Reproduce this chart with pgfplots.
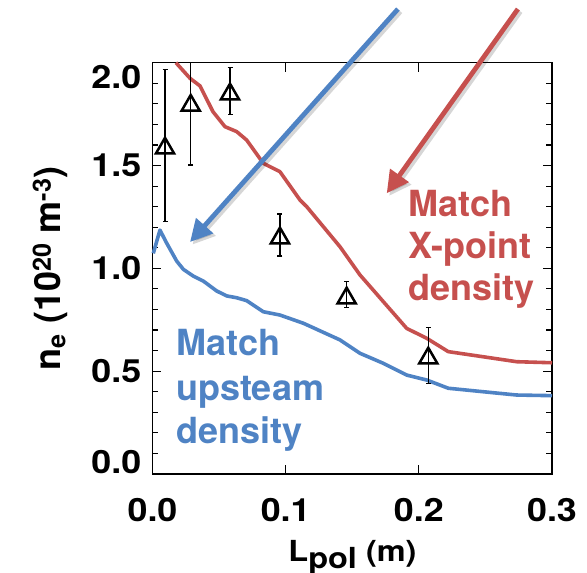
\documentclass[border=0pt]{standalone}
\usepackage{pgfplots}
\pgfplotsset{compat=1.18}
\usepackage{pgfplotstable}
\usepackage{fontspec}
\setmainfont{TeX Gyre Heros}
\newfontfamily\axisfont{TeX Gyre Heros}[FakeStretch=1.12]
\usetikzlibrary{arrows.meta}
\definecolor{myred}{RGB}{198,80,78}
\definecolor{myblue}{RGB}{79,131,196}

\pgfplotstableread{
x y
0.0176 2.000
0.0282 1.924
0.0357 1.887
0.0454 1.762
0.0544 1.689
0.0632 1.665
0.0707 1.624
0.0832 1.511
0.0957 1.470
0.1108 1.332
0.1158 1.300
0.1408 1.105
0.1558 0.968
0.1909 0.708
0.2059 0.660
0.2221 0.595
0.2484 0.570
0.2735 0.546
0.3000 0.541
}\redtab

\pgfplotstableread{
x y
0.0006 1.073
0.0056 1.186
0.0107 1.122
0.0182 1.035
0.0232 0.995
0.0307 0.962
0.0382 0.938
0.0482 0.890
0.0557 0.866
0.0632 0.857
0.0707 0.843
0.0832 0.789
0.0957 0.773
0.1133 0.733
0.1408 0.652
0.1558 0.587
0.1734 0.538
0.1909 0.481
0.2059 0.457
0.2221 0.417
0.2484 0.400
0.2735 0.384
0.3000 0.381
}\bluetab

\pgfplotstableread{
x y ep em
0.0094 1.584 0.384 0.357
0.0287 1.792 0.208 0.289
0.0582 1.847 0.131 0.098
0.0957 1.147 0.117 0.087
0.1458 0.855 0.080 0.046
0.2071 0.563 0.148 0.122
}\datatab

\begin{document}
\begin{tikzpicture}
\begin{axis}[
  scale only axis, width=399.5pt, height=411.3pt,
  xmin=0, xmax=0.3, ymin=0, ymax=2,
  enlargelimits=false,
  clip=false,
  axis line style={line width=1.6pt},
  xtick={0,0.1,0.2,0.3},
  ytick={0.5,1,1.5},
  minor ytick={0.1,0.2,0.3,0.4,0.6,0.7,0.8,0.9,1.1,1.2,1.3,1.4,1.6,1.7,1.8,1.9},
  extra y ticks={0.058,1.932},
  extra y tick labels={0.0,2.0},
  extra y tick style={major tick length=0pt},
  tick align=inside,
  major tick length=9pt, minor tick length=5.5pt,
  every tick/.style={black, line width=1.1pt},
  /pgf/number format/fixed,
  /pgf/number format/fixed zerofill,
  /pgf/number format/precision=1,
  /pgf/number format/assume math mode=true,
  xticklabel style={font=\axisfont\fontsize{32}{32}\selectfont\bfseries, anchor=base, yshift=-47.7pt, inner sep=0pt},
  yticklabel style={font=\axisfont\fontsize{32}{32}\selectfont\bfseries, anchor=east, xshift=-11pt, inner sep=0pt},
  xlabel={L\raisebox{-6.5pt}{pol} (m)},
  xlabel style={font=\axisfont\fontsize{29}{29}\selectfont\bfseries, at={(axis description cs:0.5006,-0.2130)}, anchor=base, inner sep=0pt},
  ylabel={n\textsubscript{e} (10\textsuperscript{20} m\textsuperscript{-3})},
  ylabel style={font=\fontsize{36}{36}\selectfont\bfseries, at={(axis description cs:-0.2315,0.5)}, anchor=base, inner sep=0pt},
]
\addplot[myred, line width=3.6pt, line join=round] table[x=x,y=y] {\redtab};
\addplot[myblue, line width=3.6pt, line join=round] table[x=x,y=y] {\bluetab};
\addplot[black, only marks, mark=triangle, mark size=10.5pt,
  mark options={line width=2.5pt, solid, line join=miter},
  error bars/.cd, y dir=both, y explicit,
  error bar style={line width=1.2pt},
  error mark options={rotate=90, mark size=2.5pt, line width=1.2pt}]
  table[x=x, y=y, y error plus=ep, y error minus=em] {\datatab};

% annotation arrows with soft shadow
\draw[line width=4.8pt, black, opacity=0.16, -{Triangle[length=22pt,width=22pt]}]
  ([shift={(2.5pt,-2.5pt)}]axis cs:0.1843,2.261) -- ([shift={(2.5pt,-2.5pt)}]axis cs:0.0282,1.128);
\draw[line width=4.8pt, myblue, -{Triangle[length=22pt,width=22pt]}]
  (axis cs:0.1843,2.261) -- (axis cs:0.0282,1.128);
\draw[line width=4.8pt, black, opacity=0.16, -{Triangle[length=22pt,width=22pt]}]
  ([shift={(2.5pt,-2.5pt)}]axis cs:0.2744,2.261) -- ([shift={(2.5pt,-2.5pt)}]axis cs:0.1759,1.365);
\draw[line width=4.8pt, myred, -{Triangle[length=22pt,width=22pt]}]
  (axis cs:0.2744,2.261) -- (axis cs:0.1759,1.365);

\node[anchor=base west, inner sep=0pt, text=myred, font=\fontsize{36}{36}\selectfont\bfseries] at (axis cs:0.1919,1.251) {Match};
\node[anchor=base west, inner sep=0pt, text=myred, font=\fontsize{36}{36}\selectfont\bfseries] at (axis cs:0.1919,1.049) {X-point};
\node[anchor=base west, inner sep=0pt, text=myred, font=\fontsize{36}{36}\selectfont\bfseries] at (axis cs:0.1919,0.846) {density};
\node[anchor=base west, inner sep=0pt, text=myblue, font=\fontsize{36}{36}\selectfont\bfseries] at (axis cs:0.0176,0.574) {Match};
\node[anchor=base west, inner sep=0pt, text=myblue, font=\fontsize{36}{36}\selectfont\bfseries] at (axis cs:0.0176,0.356) {upsteam};
\node[anchor=base west, inner sep=0pt, text=myblue, font=\fontsize{36}{36}\selectfont\bfseries] at (axis cs:0.0176,0.149) {density};
\end{axis}
\pgfresetboundingbox
\path ([shift={(-152.5pt,-99pt)}]current axis.south west) rectangle ([shift={(35pt,62.7pt)}]current axis.north east);
\end{tikzpicture}
\end{document}
